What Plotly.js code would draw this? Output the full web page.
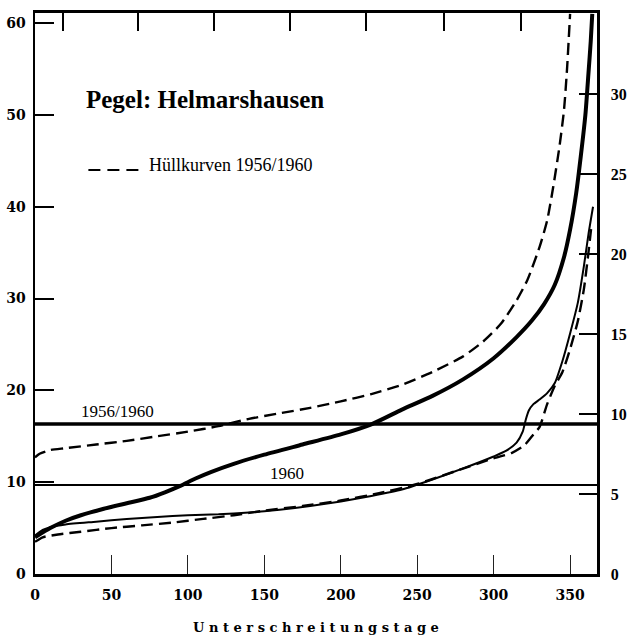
<!DOCTYPE html>
<html>
<head>
<meta charset="utf-8">
<script src="https://cdn.plot.ly/plotly-3.0.1.min.js"></script>
<style>
  html, body { margin: 0; padding: 0; background: #fff; }
  #chart { width: 628px; height: 642px; }
</style>
</head>
<body>
<div id="chart"></div>
<script>
// Unterschreitungsdauerlinien, Pegel Helmarshausen

// Obere Hüllkurve 1956/1960 (gestrichelt)
const upperEnvDays = [0, 3, 10, 20, 40, 60, 80, 100, 120, 140, 160, 180, 200, 220, 240, 260, 280, 293, 305, 315, 322, 330, 335, 339, 343, 346, 348, 350];
const upperEnvVals = [12.7, 13.1, 13.5, 13.7, 14.1, 14.5, 15.0, 15.5, 16.1, 16.9, 17.5, 18.1, 18.8, 19.6, 20.6, 22.0, 23.7, 25.3, 27.3, 29.8, 32.0, 35.6, 38.5, 42.2, 46.5, 50.5, 55, 61];

// Dauerlinie 1956/1960 (kräftig)
const curve5660Days = [0, 10, 20, 30, 45, 60, 75, 85, 95, 105, 115, 130, 150, 175, 200, 220, 240, 260, 280, 300, 315, 325, 333, 340, 346, 350, 354, 357, 360, 362, 363.5, 364.5];
const curve5660Vals = [4.0, 5.0, 5.8, 6.4, 7.1, 7.7, 8.3, 8.9, 9.6, 10.4, 11.1, 12.0, 13.0, 14.1, 15.2, 16.3, 17.9, 19.4, 21.2, 23.5, 25.8, 27.6, 29.4, 31.5, 34.5, 37.5, 41.5, 45.5, 50, 54.5, 58, 61];

// Dauerlinie 1960 (dünn)
const curve1960Days = [0, 5, 10, 20, 40, 60, 80, 100, 120, 140, 160, 180, 200, 220, 240, 260, 280, 300, 308, 315, 319, 321, 323, 326, 330, 335, 340, 345, 350, 355, 359, 362, 365];
const curve1960Vals = [4.2, 4.8, 5.1, 5.4, 5.7, 6.0, 6.2, 6.4, 6.5, 6.7, 7.0, 7.4, 7.9, 8.5, 9.2, 10.3, 11.5, 12.8, 13.4, 14.3, 15.5, 16.8, 17.8, 18.5, 19.0, 19.7, 20.8, 23.2, 26.2, 29.5, 33.5, 37, 40];

// Untere Hüllkurve 1956/1960 (gestrichelt)
const lowerEnvDays = [0, 5, 15, 30, 50, 70, 90, 110, 130, 150, 175, 200, 225, 250, 275, 300, 312, 320, 326, 330, 335, 340, 345, 350, 355, 359, 362, 364];
const lowerEnvVals = [3.5, 4.0, 4.3, 4.6, 5.0, 5.3, 5.6, 6.0, 6.4, 6.9, 7.4, 8.0, 8.8, 9.8, 11.2, 12.6, 13.2, 14.0, 15.2, 16.0, 18.5, 20.5, 22.0, 24.5, 27.5, 31, 35, 38];

// Waagerechte Bezugslinien
const refLineNames = ['1956/1960', '1960'];
const refLineVals = [16.34, 9.7];

// Achsen
const xTickVals = [0, 50, 100, 150, 200, 250, 300, 350];
const topTickVals = [18, 67.6, 117.3, 167, 216.7, 267.6, 318];
const leftTickVals = [0, 10, 20, 30, 40, 50, 60];
const rightTickVals = [0, 5, 10, 15, 20, 25, 30];

const serif = 'Liberation Serif, DejaVu Serif, serif';
const tickFont = { family: 'DejaVu Serif, serif', size: 14, color: '#000', weight: 'bold' };
const rightTickFont = { family: 'Liberation Serif, serif', size: 16, color: '#000', weight: 'bold' };
const ink = '#000';

const dashed = { color: ink, width: 2.4, dash: '12px,6px', shape: 'spline', smoothing: 0.6 };

const traces = [
  { x: upperEnvDays, y: upperEnvVals, mode: 'lines', line: dashed, hoverinfo: 'skip' },
  { x: lowerEnvDays, y: lowerEnvVals, mode: 'lines', line: dashed, hoverinfo: 'skip' },
  { x: curve1960Days, y: curve1960Vals, mode: 'lines', line: { color: ink, width: 2, shape: 'spline', smoothing: 0.6 }, hoverinfo: 'skip' },
  { x: curve5660Days, y: curve5660Vals, mode: 'lines', line: { color: ink, width: 4, shape: 'spline', smoothing: 0.6 }, hoverinfo: 'skip' },
  // leere Spuren, damit obere und rechte Achse gezeichnet werden
  { x: [], y: [], xaxis: 'x2', yaxis: 'y', mode: 'lines', hoverinfo: 'skip' },
  { x: [], y: [], xaxis: 'x', yaxis: 'y2', mode: 'lines', hoverinfo: 'skip' }
];

const refWidths = [3.5, 2];
const shapes = refLineVals.map((v, i) => ({
  type: 'line', xref: 'paper', yref: 'y', x0: 0, x1: 1, y0: v, y1: v,
  line: { color: ink, width: refWidths[i] }
}));
// Legendenstrich der Hüllkurven
shapes.push({
  type: 'line', xref: 'paper', yref: 'paper', x0: 0.095, x1: 0.188, y0: 0.72, y1: 0.72,
  line: { color: ink, width: 2, dash: '12px,7px' }
});

const annotations = [
  { text: 'Pegel: Helmarshausen', xref: 'paper', yref: 'paper', x: 0.087, y: 0.845,
    xanchor: 'left', yanchor: 'middle', showarrow: false,
    font: { family: serif, size: 25, color: ink, weight: 'bold' } },
  { text: 'Hüllkurven 1956/1960', xref: 'paper', yref: 'paper', x: 0.2, y: 0.729,
    xanchor: 'left', yanchor: 'middle', showarrow: false,
    font: { family: serif, size: 18, color: ink } },
  { text: refLineNames[0], xref: 'x', yref: 'y', x: 54, y: refLineVals[0],
    xanchor: 'center', yanchor: 'bottom', yshift: 1, showarrow: false,
    font: { family: serif, size: 17, color: ink } },
  { text: refLineNames[1], xref: 'x', yref: 'y', x: 165, y: refLineVals[1],
    xanchor: 'center', yanchor: 'bottom', yshift: 0, showarrow: false,
    font: { family: serif, size: 17, color: ink } }
];

const layout = {
  width: 628, height: 642,
  margin: { l: 35, r: 31, t: 13, b: 68 },
  paper_bgcolor: '#fff', plot_bgcolor: '#fff',
  showlegend: false,
  xaxis: {
    range: [0, 367.6], tickvals: xTickVals, ticks: 'inside', ticklen: 19, tickwidth: 1, tickcolor: '#222',
    showgrid: false, zeroline: false, showline: true, linecolor: ink, linewidth: 3,
    tickfont: tickFont, ticklabelstandoff: 6,
    title: { text: 'U n t e r s c h r e i t u n g s t a g e', standoff: 22,
      font: { family: 'DejaVu Serif, serif', size: 13, color: ink, weight: 'bold' } }
  },
  xaxis2: {
    overlaying: 'x', side: 'top', anchor: 'y', range: [0, 367.6], tickvals: topTickVals,
    ticks: 'inside', ticklen: 18, tickwidth: 2, tickcolor: ink, showticklabels: false,
    showgrid: false, zeroline: false, showline: true, linecolor: ink, linewidth: 3
  },
  yaxis: {
    range: [0, 61.1], tickvals: leftTickVals, ticks: 'inside', ticklen: 19, tickwidth: 2, tickcolor: ink,
    showgrid: false, zeroline: false, showline: true, linecolor: ink, linewidth: 2.5,
    tickfont: tickFont, ticklabelstandoff: 4
  },
  yaxis2: {
    overlaying: 'y', side: 'right', anchor: 'x', range: [0, 35.06], tickvals: rightTickVals,
    ticks: 'inside', ticklen: 18, tickwidth: 1.5, tickcolor: ink,
    showgrid: false, zeroline: false, showline: true, linecolor: ink, linewidth: 2.5,
    tickfont: rightTickFont, ticklabelstandoff: 8
  },
  shapes: shapes,
  annotations: annotations
};

Plotly.newPlot('chart', traces, layout, { staticPlot: true, displayModeBar: false });
</script>
</body>
</html>
